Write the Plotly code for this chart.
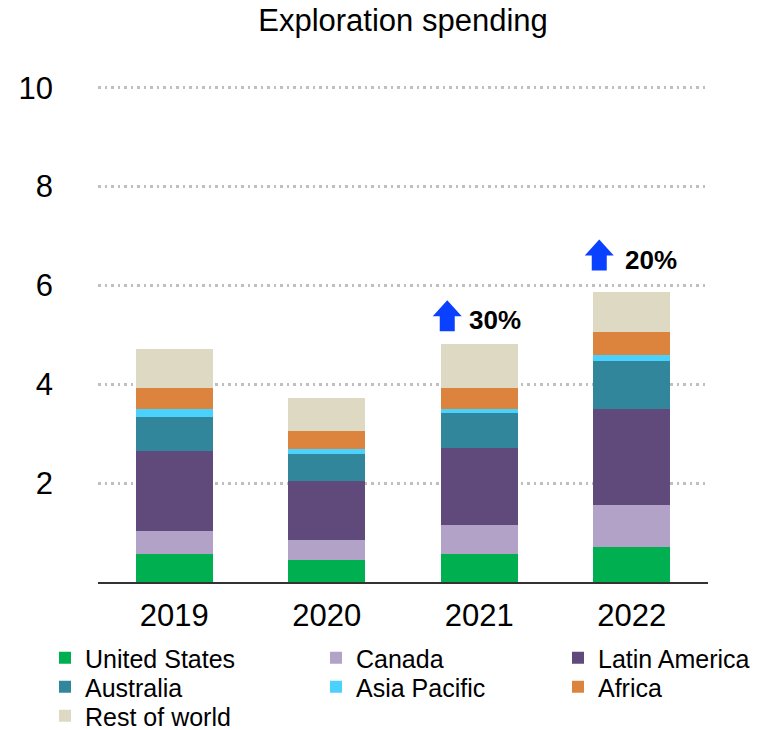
import plotly.graph_objects as go

years = ["2019", "2020", "2021", "2022"]
united_states = [0.57, 0.44, 0.57, 0.71]
canada = [0.46, 0.41, 0.58, 0.84]
latin_america = [1.63, 1.20, 1.57, 1.96]
australia = [0.68, 0.53, 0.69, 0.96]
asia_pacific = [0.16, 0.11, 0.10, 0.12]
africa = [0.42, 0.37, 0.41, 0.46]
rest_of_world = [0.79, 0.67, 0.89, 0.81]
growth_labels = ["", "", "30%", "20%"]
y_ticks = [2, 4, 6, 8, 10]

series = [
    ("United States", united_states, "#00B050"),
    ("Canada", canada, "#B3A2C7"),
    ("Latin America", latin_america, "#604A7B"),
    ("Australia", australia, "#31869B"),
    ("Asia Pacific", asia_pacific, "#4BD2FC"),
    ("Africa", africa, "#DC843E"),
    ("Rest of world", rest_of_world, "#DDD9C3"),
]

# legend placement (container px): symbol centre x, row centre y
legend_pos = {
    "United States": (67, 658), "Canada": (338, 658), "Latin America": (580, 658),
    "Australia": (67, 687), "Asia Pacific": (338, 687), "Africa": (580, 687),
    "Rest of world": (67, 716),
}

W, H = 776, 730
FONT = "Liberation Sans, Arial, sans-serif"
xpos = list(range(len(years)))

fig = go.Figure()
layout_legends = {}
for i, (name, vals, col) in enumerate(series):
    key = "legend" if i == 0 else f"legend{i+1}"
    fig.add_trace(go.Bar(x=xpos, y=vals, name=name, marker=dict(color=col, line=dict(width=0)),
                         legend=key, showlegend=True))
    cx, cy = legend_pos[name]
    layout_legends[key] = dict(
        xref="container", yref="container",
        x=(cx - 20 - 2) / W, y=1 - cy / H, xanchor="left", yanchor="middle",
        font=dict(family=FONT, size=25, color="#000"), bgcolor="rgba(0,0,0,0)",
        borderwidth=0, itemclick=False, itemdoubleclick=False,
    )

totals = [sum(v) for v in zip(*[s[1] for s in series])]

# decorations (pixel offsets relative to bar top centre)
arrow_dx = [0, 0, -32, -32.5]
arrow_bottom = [0, 0, 13, 22]
text_dx = [0, 0, -12, -9]
text_dy = [0, 0, 24, 32]

shapes = []
annotations = []
for i, lab in enumerate(growth_labels):
    if not lab:
        continue
    cx, b = arrow_dx[i], arrow_bottom[i]
    path = (f"M {cx-7.5},{b} L {cx+7.5},{b} L {cx+7.5},{b+15} L {cx+14.5},{b+15} "
            f"L {cx},{b+31} L {cx-14.5},{b+15} L {cx-7.5},{b+15} Z")
    shapes.append(dict(type="path", xref="x", yref="y", xsizemode="pixel", ysizemode="pixel",
                       xanchor=xpos[i], yanchor=totals[i], path=path,
                       fillcolor="#0A40FF", line=dict(width=0)))
    annotations.append(dict(x=xpos[i], y=totals[i], xref="x", yref="y", text=f"<b>{lab}</b>",
                            showarrow=False, xanchor="left", yanchor="middle",
                            xshift=text_dx[i], yshift=text_dy[i],
                            font=dict(family=FONT, size=26, color="#000")))

fig.update_layout(
    width=W, height=H, showlegend=True,
    margin=dict(l=98, r=68, t=70, b=148, autoexpand=False),
    paper_bgcolor="white", plot_bgcolor="white",
    barmode="stack", bargap=0.497,
    font=dict(family=FONT, color="#000"),
    title=dict(text="Exploration spending", x=0.5, xref="paper", xanchor="center",
               y=1 - 20 / H, yref="container", yanchor="middle",
               font=dict(family=FONT, size=31, color="#000")),
    xaxis=dict(range=[-0.5, len(years) - 0.5], tickvals=xpos, ticktext=years,
               showline=True, linecolor="#333", linewidth=2, zeroline=False,
               showgrid=False, ticks="", tickfont=dict(family=FONT, size=31, color="#000"),
               ticklabelstandoff=5),
    yaxis=dict(range=[0, 10.36], tickvals=y_ticks, showline=False, zeroline=False,
               showgrid=True, gridcolor="#BFBFBF", gridwidth=2.5, griddash="2.5px,4px",
               tickfont=dict(family=FONT, size=31, color="#000"), ticklabelstandoff=44),
    shapes=shapes, annotations=annotations,
    **layout_legends,
)

fig.write_html("out.html")
